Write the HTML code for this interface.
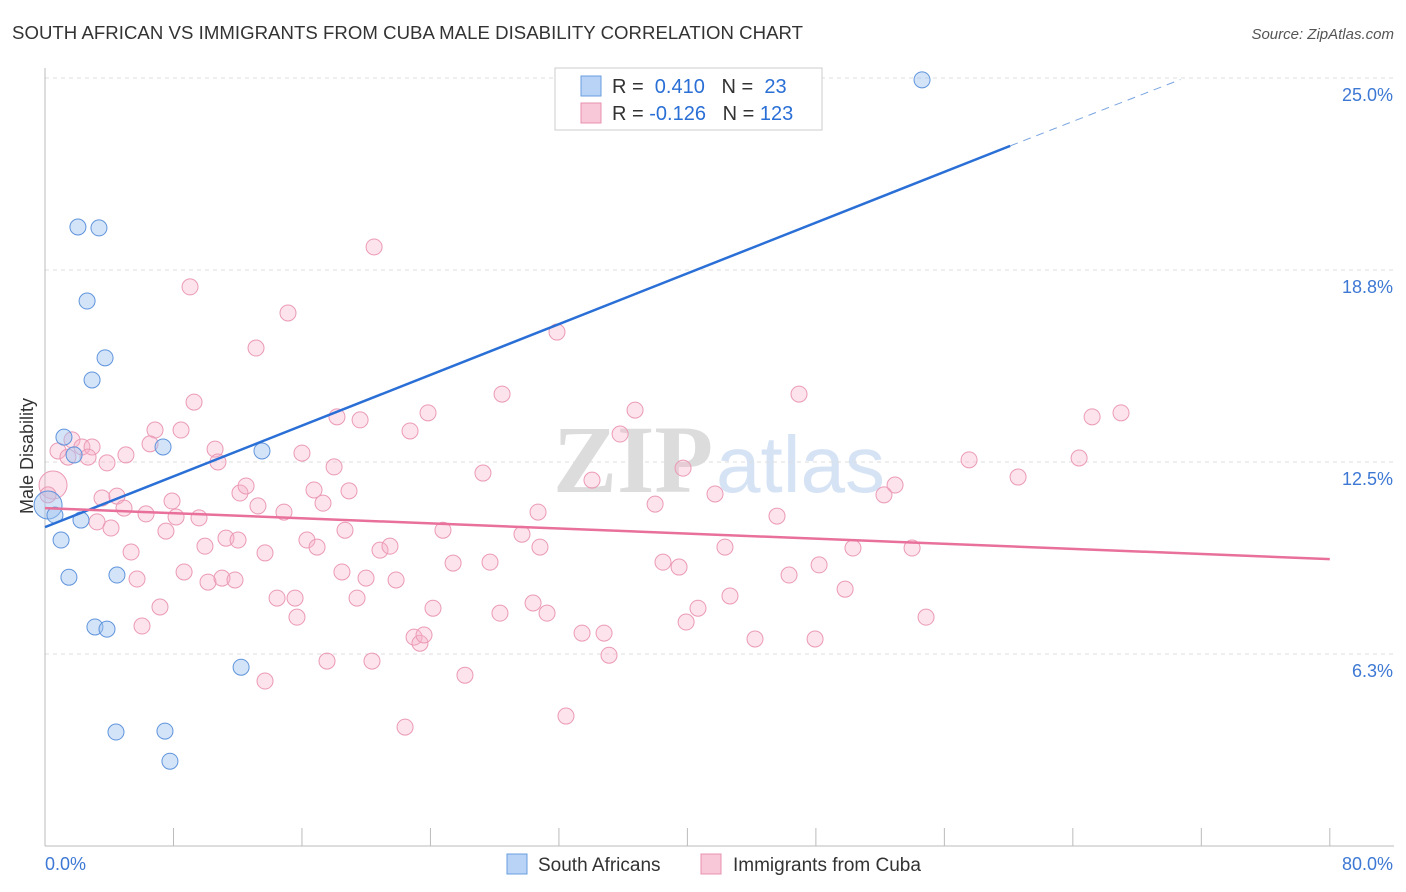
<!DOCTYPE html>
<html><head><meta charset="utf-8">
<style>
body{margin:0;background:#fff;font-family:"Liberation Sans",sans-serif;}
svg{display:block}
</style></head>
<body>
<svg id="chart" width="1406" height="892" xmlns="http://www.w3.org/2000/svg">
<text x="12" y="39" font-size="18.6" fill="#333" textLength="791">SOUTH AFRICAN VS IMMIGRANTS FROM CUBA MALE DISABILITY CORRELATION CHART</text>
<text x="1394" y="39" font-size="15" fill="#555" font-style="italic" text-anchor="end">Source: ZipAtlas.com</text>
<g>
<text x="553" y="492" font-size="96" fill="#dcdcdc" font-family="Liberation Serif,serif" font-weight="bold">ZIP</text>
<text x="716" y="492" font-size="80" fill="#d6e3f5">atlas</text>
</g>
<g id="grid"></g><g id="axes"></g><g id="pts"></g><g id="lines"></g>
<text transform="translate(33,456) rotate(-90)" font-size="18" fill="#333" text-anchor="middle">Male Disability</text>
<g>
<rect x="555" y="68" width="267" height="62" fill="#fff" stroke="#ccc"/>
<rect x="581" y="76" width="20" height="20" fill="#b8d3f5" stroke="#6a9ee0"/>
<rect x="581" y="103" width="20" height="20" fill="#f9c8d8" stroke="#e890ae"/>
<text x="612" y="93" font-size="20" fill="#333">R = <tspan fill="#2a6fd6">&#160;0.410</tspan>&#160;&#160;&#160;N = <tspan fill="#2a6fd6">&#160;23</tspan></text>
<text x="612" y="120" font-size="20" fill="#333">R = <tspan fill="#2a6fd6">-0.126</tspan>&#160;&#160;&#160;N = <tspan fill="#2a6fd6">123</tspan></text>
</g>
<g>
<rect x="507" y="854" width="20" height="20" fill="#b8d3f5" stroke="#6a9ee0"/>
<text x="538" y="871" font-size="19" fill="#333">South Africans</text>
<rect x="701" y="854" width="20" height="20" fill="#f9c8d8" stroke="#e890ae"/>
<text x="733" y="871" font-size="19" fill="#333">Immigrants from Cuba</text>
</g>
</svg>
<script>
const yTicks=[6.25,12.5,18.75,25];
const yTickLabels=["6.3%","12.5%","18.8%","25.0%"];
const blueX=[54.61,2.05,3.36,2.62,3.74,2.93,1.18,7.35,13.51,1.81,0.19,0.62,2.24,1.00,1.49,4.48,3.11,3.86,12.21,4.42,7.47,7.78];
const blueY=[24.94,20.15,20.12,17.74,15.89,15.17,13.31,12.99,12.86,12.73,11.10,10.77,10.61,9.96,8.75,8.82,7.13,7.06,5.82,3.71,3.74,2.76];
const pinkX=[20.49,9.03,15.13,13.14,31.88,9.28,28.46,46.95,18.18,19.62,23.85,36.74,67.00,65.20,6.85,8.47,22.73,35.81,1.68,2.30,2.93,6.54,10.59,16.00,0.81,1.43,2.68,5.04,3.86,10.77,18.00,27.27,34.06,39.73,57.54,64.39,60.59,52.93,52.24,0.50,0.19,3.55,4.48,7.91,12.14,12.52,16.75,18.93,17.31,41.72,13.26,14.88,30.70,37.99,45.58,3.24,4.11,4.92,6.29,8.16,9.59,7.53,18.68,24.78,29.70,11.27,12.02,16.31,16.94,9.96,5.36,13.70,20.86,21.48,30.82,42.34,50.31,53.99,25.41,27.71,38.48,39.48,8.66,5.73,18.49,19.99,21.86,48.20,46.33,10.15,11.02,11.83,14.45,15.57,19.43,24.16,28.33,30.39,31.26,40.66,42.65,49.82,7.16,15.69,6.04,39.92,54.86,22.98,23.35,23.60,33.44,34.81,44.21,47.95,35.12,17.56,20.36,26.15,13.70,32.44,22.42];
const pinkY=[19.50,18.20,17.35,16.21,16.73,14.45,14.71,14.71,13.97,13.87,14.10,14.19,14.10,13.97,13.54,13.54,13.51,13.41,13.22,12.99,12.99,13.09,12.92,12.79,12.86,12.66,12.66,12.73,12.47,12.50,12.34,12.14,11.91,12.30,12.57,12.63,12.01,11.75,11.43,11.75,11.43,11.33,11.39,11.23,11.49,11.72,11.59,11.56,11.16,11.46,11.07,10.87,10.87,11.13,10.74,10.55,10.35,11.00,10.81,10.71,10.68,10.25,10.28,10.28,10.15,10.02,9.96,9.96,9.73,9.76,9.57,9.54,9.63,9.76,9.73,9.73,9.70,9.70,9.21,9.24,9.24,9.08,8.92,8.69,8.92,8.72,8.66,9.15,8.82,8.59,8.72,8.66,8.07,8.07,8.07,7.74,7.58,7.91,7.58,7.74,8.14,8.36,7.78,7.45,7.16,7.29,7.45,6.80,6.60,6.87,6.93,6.93,6.74,6.74,6.21,6.02,6.02,5.56,5.37,4.23,3.87];
const blueLine=[0,10.38,60.1,22.79,70.7,24.95];
const pinkLine=[0,11.0,80,9.34];
const X=v=>45+v*16.06, Y=v=>462-(v-12.5)*30.72;
const NS="http://www.w3.org/2000/svg";
function mk(t,a,p){const e=document.createElementNS(NS,t);for(const k in a)e.setAttribute(k,a[k]);p.appendChild(e);return e;}
const grid=document.getElementById('grid'),axes=document.getElementById('axes'),pts=document.getElementById('pts'),lines=document.getElementById('lines');
yTicks.forEach((t,i)=>{const l=mk('line',{x1:45,x2:1394,y1:Y(t),y2:Y(t),stroke:'#ddd','stroke-dasharray':'4,4'},grid);


const tx=mk('text',{x:1393,y:Y(t)+23,'font-size':18,fill:'#3d78d4','text-anchor':'end'},axes);tx.textContent=yTickLabels[i];

});
const ya=mk('line',{x1:45,x2:45,y1:68,y2:846,stroke:'#bbb'},axes);


const xa=mk('line',{x1:45,x2:1394,y1:846,y2:846,stroke:'#bbb'},axes);


for(let v=0;v<=80;v+=8){const t=mk('line',{x1:X(v),x2:X(v),y1:828,y2:846,stroke:'#bbb'},axes);

}
const xl0=mk('text',{x:45,y:870,'font-size':18,fill:'#3d78d4'},axes);xl0.textContent='0.0%';


const xl1=mk('text',{x:1393,y:870,'font-size':18,fill:'#3d78d4','text-anchor':'end'},axes);xl1.textContent='80.0%';


pinkX.forEach((x,i)=>{const c=mk('circle',{cx:X(x),cy:Y(pinkY[i]),r:(i==39?14:8),fill:'rgba(245,176,200,0.35)',stroke:'#eb9ab6','stroke-width':1},pts);

});
blueX.forEach((x,i)=>{const c=mk('circle',{cx:X(x),cy:Y(blueY[i]),r:(i==10?14:8),fill:'rgba(160,195,240,0.45)',stroke:'#5f94dc','stroke-width':1},pts);

});
const b1=mk('line',{x1:X(blueLine[0]),y1:Y(blueLine[1]),x2:X(blueLine[2]),y2:Y(blueLine[3]),stroke:'#2a6fd6','stroke-width':2.5},lines);


const b2=mk('line',{x1:X(blueLine[2]),y1:Y(blueLine[3]),x2:X(blueLine[4]),y2:Y(blueLine[5]),stroke:'#7aa5e0','stroke-width':1,'stroke-dasharray':'8,6'},lines);


const p1=mk('line',{x1:X(pinkLine[0]),y1:Y(pinkLine[1]),x2:X(pinkLine[2]),y2:Y(pinkLine[3]),stroke:'#e8709a','stroke-width':2.5},lines);


</script>
</body></html>
